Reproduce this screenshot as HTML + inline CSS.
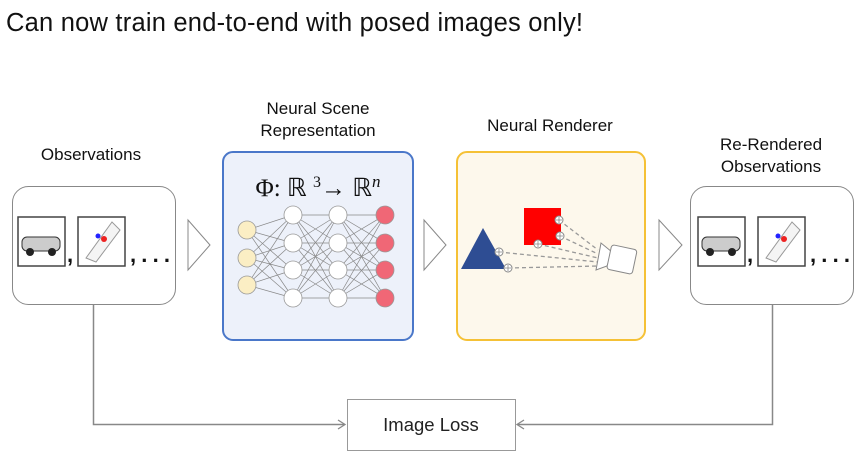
<!DOCTYPE html>
<html><head><meta charset="utf-8"><style>
html,body{margin:0;padding:0;background:#fff;}
svg{display:block;font-family:"Liberation Sans",sans-serif;}
</style></head><body>
<svg width="862" height="460" viewBox="0 0 862 460" xmlns="http://www.w3.org/2000/svg">
<text x="6" y="31" font-size="25.5" fill="#111" textLength="577">Can now train end-to-end with posed images only!</text>

<text x="91" y="160" font-size="17" text-anchor="middle" fill="#111">Observations</text>
<text x="318" y="114" font-size="17" text-anchor="middle" fill="#111">Neural Scene</text>
<text x="318" y="136" font-size="17" text-anchor="middle" fill="#111">Representation</text>
<text x="550" y="131" font-size="17" text-anchor="middle" fill="#111">Neural Renderer</text>
<text x="771" y="150" font-size="17" text-anchor="middle" fill="#111">Re-Rendered</text>
<text x="771" y="172" font-size="17" text-anchor="middle" fill="#111">Observations</text>

<rect x="12.5" y="186.5" width="163" height="118" rx="16" fill="#fff" stroke="#888"/>
<g>
<rect x="18" y="217" width="47" height="49" fill="#fff" stroke="#444" stroke-width="1.5"/>
<rect x="22" y="237" width="38" height="14" rx="5" fill="#ccc" stroke="#333"/>
<circle cx="30" cy="252" r="4" fill="#222"/><circle cx="52" cy="252" r="4" fill="#222"/>
<rect x="78" y="217" width="47" height="49" fill="#fff" stroke="#444" stroke-width="1.5"/>
<path d="M86 258 L112 222 L120 230 L96 262 Z" fill="#f4f4f4" stroke="#999"/>
<circle cx="98" cy="236" r="2.5" fill="#22f"/><circle cx="104" cy="239" r="3" fill="#e22"/>
<text x="67" y="262" font-size="22" font-weight="bold" fill="#111">,</text>
<text x="130" y="262" font-size="22" font-weight="bold" fill="#111" textLength="40">, . . .</text>
</g>

<path d="M188 220 L210 245 L188 270 Z" fill="#fff" stroke="#888"/>
<path d="M424 220 L446 245 L424 270 Z" fill="#fff" stroke="#888"/>
<path d="M659 220 L682 245 L659 270 Z" fill="#fff" stroke="#888"/>

<rect x="223" y="152" width="190" height="188" rx="10" fill="#edf1fa" stroke="#4a77c9" stroke-width="2"/>
<text x="318" y="196" font-size="25" text-anchor="middle" font-family="Liberation Serif,serif" fill="#111">Φ: ℝ <tspan font-size="16" dy="-9">3</tspan><tspan dy="9">→  ℝ</tspan><tspan font-style="italic" font-size="17" dy="-9">n</tspan></text>
<g stroke="#888" stroke-width="0.7" fill="none">
<path d="M247 230L293 215M247 230L293 243M247 230L293 270M247 230L293 298M247 258L293 215M247 258L293 243M247 258L293 270M247 258L293 298M247 285L293 215M247 285L293 243M247 285L293 270M247 285L293 298"/>
<path d="M293 215L338 215M293 215L338 243M293 215L338 270M293 215L338 298M293 243L338 215M293 243L338 243M293 243L338 270M293 243L338 298M293 270L338 215M293 270L338 243M293 270L338 270M293 270L338 298M293 298L338 215M293 298L338 243M293 298L338 270M293 298L338 298"/>
<path d="M338 215L385 215M338 215L385 243M338 215L385 270M338 215L385 298M338 243L385 215M338 243L385 243M338 243L385 270M338 243L385 298M338 270L385 215M338 270L385 243M338 270L385 270M338 270L385 298M338 298L385 215M338 298L385 243M338 298L385 270M338 298L385 298"/>
</g>
<g stroke="#999" stroke-width="0.8">
<circle cx="247" cy="230" r="9" fill="#fbeec4"/><circle cx="247" cy="258" r="9" fill="#fbeec4"/><circle cx="247" cy="285" r="9" fill="#fbeec4"/>
<circle cx="293" cy="215" r="9" fill="#fff"/><circle cx="293" cy="243" r="9" fill="#fff"/><circle cx="293" cy="270" r="9" fill="#fff"/><circle cx="293" cy="298" r="9" fill="#fff"/>
<circle cx="338" cy="215" r="9" fill="#fff"/><circle cx="338" cy="243" r="9" fill="#fff"/><circle cx="338" cy="270" r="9" fill="#fff"/><circle cx="338" cy="298" r="9" fill="#fff"/>
<circle cx="385" cy="215" r="9" fill="#f06776"/><circle cx="385" cy="243" r="9" fill="#f06776"/><circle cx="385" cy="270" r="9" fill="#f06776"/><circle cx="385" cy="298" r="9" fill="#f06776"/>
</g>

<rect x="457" y="152" width="188" height="188" rx="10" fill="#fdf8ec" stroke="#f5c136" stroke-width="2"/>
<path d="M461 269 L483 228 L506 269 Z" fill="#2e4d93"/>
<rect x="524" y="208" width="37" height="37" fill="#f00"/>
<g stroke="#999" stroke-width="1.3" stroke-dasharray="4,3">
<path d="M559 220L598 250M560 236L598 254M538 244L598 258M499 252L598 262M508 268L598 266"/>
</g>
<g stroke="#888" fill="#fff" stroke-width="1">
<circle cx="559" cy="220" r="4"/><circle cx="560" cy="236" r="4"/><circle cx="538" cy="244" r="4"/><circle cx="499" cy="252" r="4"/><circle cx="508" cy="268" r="4"/>
<path d="M596 270 L601 243 L612 252 L607 266 Z"/>
<rect x="609" y="247" width="26" height="25" rx="3" transform="rotate(12 622 259)"/>
</g>
<g stroke="#888" stroke-width="0.8">
<path d="M559 217v6M556 220h6M560 233v6M557 236h6M538 241v6M535 244h6M499 249v6M496 252h6M508 265v6M505 268h6"/>
</g>

<rect x="690.5" y="186.5" width="163" height="118" rx="16" fill="#fff" stroke="#888"/>
<g transform="translate(680 0)">
<rect x="18" y="217" width="47" height="49" fill="#fff" stroke="#444" stroke-width="1.5"/>
<rect x="22" y="237" width="38" height="14" rx="5" fill="#ccc" stroke="#333"/>
<circle cx="30" cy="252" r="4" fill="#222"/><circle cx="52" cy="252" r="4" fill="#222"/>
<rect x="78" y="217" width="47" height="49" fill="#fff" stroke="#444" stroke-width="1.5"/>
<path d="M86 258 L112 222 L120 230 L96 262 Z" fill="#f4f4f4" stroke="#999"/>
<circle cx="98" cy="236" r="2.5" fill="#22f"/><circle cx="104" cy="239" r="3" fill="#e22"/>
<text x="67" y="262" font-size="22" font-weight="bold" fill="#111">,</text>
<text x="130" y="262" font-size="22" font-weight="bold" fill="#111" textLength="40">, . . .</text>
</g>

<path d="M93.5 304 V424.5 H344" fill="none" stroke="#888" stroke-width="1.5"/>
<path d="M338 420 L345 424.5 L338 429" fill="none" stroke="#888" stroke-width="1.3"/>
<path d="M772.5 304 V424.5 H518" fill="none" stroke="#888" stroke-width="1.5"/>
<path d="M524 420 L517 424.5 L524 429" fill="none" stroke="#888" stroke-width="1.3"/>
<rect x="347.5" y="399.5" width="168" height="51" fill="#fff" stroke="#999"/>
<text x="431" y="431" font-size="18.5" text-anchor="middle" fill="#222">Image Loss</text>
</svg>
</body></html>
